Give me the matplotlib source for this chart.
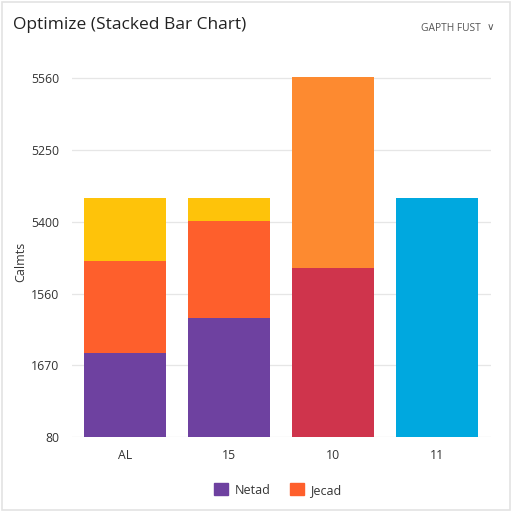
import matplotlib.pyplot as plt
from matplotlib.patches import Rectangle, Patch

plt.rcParams['font.family'] = ['Open Sans', 'DejaVu Sans']

categories = ['AL', '15', '10', '11']
ytick_labels = ['80', '1670', '1560', '5400', '5250', '5560']

# segment heights, in tick steps, bottom to top
netad = [1.17, 1.66, 0, 0]
jecad = [1.28, 1.35, 0, 0]
top_yellow = [0.88, 0.32, 0, 0]
red_part = [0, 0, 2.35, 0]
orange_part = [0, 0, 2.67, 0]
blue_part = [0, 0, 0, 3.33]

c_purple = '#6e41a0'
c_jecad = '#fe5f2c'
c_yellow = '#fec30a'
c_red = '#cf344c'
c_orange = '#fd8a30'
c_blue = '#00a8df'

fig = plt.figure(figsize=(5.12, 5.12), dpi=100)
fig.patches.append(Rectangle((0.003, 0.003), 0.994, 0.994, transform=fig.transFigure,
                             fill=False, edgecolor='#e3e3e3', linewidth=1.2))
ax = fig.add_axes([0.1406, 0.1465, 0.818, 0.7145])

x = list(range(len(categories)))
w = 0.79
b = [0] * 4
for vals, col in [(netad, c_purple), (jecad, c_jecad), (top_yellow, c_yellow),
                  (red_part, c_red), (orange_part, c_orange), (blue_part, c_blue)]:
    ax.bar(x, vals, w, bottom=b, color=col, zorder=3)
    b = [bi + v for bi, v in zip(b, vals)]

ax.set_xlim(-0.51, 3.515)
ax.set_ylim(0, 5.1)
ax.set_yticks(range(len(ytick_labels)))
ax.set_yticklabels(ytick_labels)
ax.set_xticks(x)
ax.set_xticklabels(categories)
ax.tick_params(length=0, labelsize=8.8, colors='#333333', pad=9)
ax.tick_params(axis='x', pad=9)
ax.grid(axis='y', color='#e6e6e6', linewidth=0.9, zorder=0)
for s in ax.spines.values():
    s.set_visible(False)
fig.text(0.04, 0.488, 'Calmts', fontsize=9, color='#333333', rotation=90, va='center', ha='center')

fig.text(0.025, 0.951, 'Optimize (Stacked Bar Chart)', fontsize=12.5, color='#222222', va='center')
fig.text(0.938, 0.945, 'GAPTH FUST', fontsize=7.4, color='#555555', va='center', ha='right')
fig.text(0.958, 0.946, '\u2228', fontsize=7.5, color='#555555', va='center', ha='center')

handles = [Patch(color=c_purple, label='Netad'), Patch(color=c_jecad, label='Jecad')]
fig.legend(handles=handles, loc='center', bbox_to_anchor=(0.543, 0.043), ncol=2, frameon=False,
           fontsize=9, handlelength=1.1, handleheight=1.1, columnspacing=1.6, handletextpad=0.5,
           labelcolor='#333333')

fig.savefig('out.png', dpi=100, facecolor='white')
